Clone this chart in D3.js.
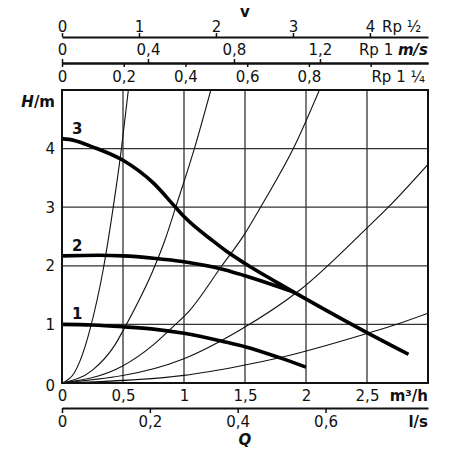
<!DOCTYPE html>
<html>
<head>
<meta charset="utf-8">
<script src="https://cdn.jsdelivr.net/npm/d3@7"></script>
<style>
  body { margin: 0; background: #fff; }
  text { font-family: "DejaVu Sans", sans-serif; font-size: 15px; fill: #111; }
</style>
</head>
<body>
<div id="chart"></div>
<script>
// pump curves, [Q m3/h, H m]
const curve1 = [[0, 1.0], [0.25, 0.99], [0.5, 0.96], [0.75, 0.92], [1.0, 0.85], [1.34, 0.70], [1.5, 0.62], [1.8, 0.42], [2.0, 0.27]]
const curve2 = [[0, 2.17], [0.3, 2.18], [0.5, 2.17], [0.75, 2.13], [1.0, 2.07], [1.34, 1.93], [1.5, 1.83], [1.75, 1.66], [1.9, 1.55]]
const curve3 = [[0, 4.17], [0.1, 4.14], [0.25, 4.03], [0.5, 3.80], [0.75, 3.41], [0.93, 3.0], [1.0, 2.84], [1.24, 2.42], [1.34, 2.26], [1.5, 2.04], [1.75, 1.73], [1.9, 1.55], [2.14, 1.27], [2.5, 0.86], [2.84, 0.49]]
const curveNames = ['1', '2', '3']

// system curves, [Q m3/h, H m]
const sysA = [[0, 0], [0.1, 0.17], [0.189, 0.62], [0.23, 0.92], [0.339, 1.95], [0.42, 3.0], [0.487, 4.0], [0.544, 5.0]]
const sysB = [[0, 0], [0.25, 0.22], [0.434, 0.65], [0.51, 0.93], [0.762, 2.0], [0.844, 2.44], [0.932, 3.0], [1.085, 4.0], [1.22, 5.0]]
const sysC = [[0, 0], [0.489, 0.28], [0.748, 0.65], [0.9, 0.94], [1.049, 1.245], [1.31, 2.0], [1.49, 2.52], [1.65, 3.08], [1.896, 4.0], [2.11, 5.0]]
const sysD = [[0, 0], [0.994, 0.41], [1.459, 0.905], [1.95, 1.587], [2.497, 2.64], [2.675, 3.0], [3.0, 3.73]]
const sysE = [[0, 0], [1.0, 0.13], [1.459, 0.29], [1.8, 0.44], [2.5, 0.845], [2.77, 1.02], [3.0, 1.19]]

// axes
const qTicks = [0, 0.5, 1, 1.5, 2, 2.5]
const lsTicks = [0, 0.2, 0.4, 0.6]
const hTicks = [0, 1, 2, 3, 4]
const pipeNames = ['Rp ½', 'Rp 1', 'Rp 1 ¼']
const pipeQPerMs = [0.631, 1.762, 2.53] // m3/h that gives 1 m/s in the pipe
const pipeTicks = [[0, 1, 2, 3, 4], [0, 0.4, 0.8, 1.2], [0, 0.2, 0.4, 0.6, 0.8, 1.0]]

const width = 450
const height = 450
const plotLeft = 62
const plotRight = 428
const plotTop = 90
const plotBottom = 383

const fmt = d3.formatLocale({ decimal: ',', thousands: '.', grouping: [3], currency: ['', ''] }).format('~g')

const x = d3.scaleLinear().domain([0, 3]).range([plotLeft, plotRight])
const y = d3.scaleLinear().domain([0, 5]).range([plotBottom, plotTop])

const svg = d3.select('#chart')
  .append('svg')
  .attr('width', width)
  .attr('height', height)

svg.append('defs').append('clipPath').attr('id', 'plot')
  .append('rect')
  .attr('x', plotLeft).attr('y', plotTop)
  .attr('width', plotRight - plotLeft).attr('height', plotBottom - plotTop)

const styleAxis = g => {
  g.select('.domain').attr('stroke', '#111').attr('stroke-width', 2)
  g.selectAll('.tick line').attr('stroke', '#111').attr('stroke-width', 1.5)
}

// grid
svg.append('g')
  .selectAll('line')
  .data(hTicks.filter(d => d > 0))
  .join('line')
  .attr('x1', plotLeft).attr('x2', plotRight)
  .attr('y1', d => y(d)).attr('y2', d => y(d))
  .attr('stroke', '#333').attr('stroke-width', 1.3)

svg.append('g')
  .selectAll('line')
  .data(qTicks.filter(d => d > 0))
  .join('line')
  .attr('x1', d => x(d)).attr('x2', d => x(d))
  .attr('y1', plotTop).attr('y2', plotBottom)
  .attr('stroke', '#333').attr('stroke-width', 1.3)

// system curves
const line = d3.line()
  .x(d => x(d[0]))
  .y(d => y(d[1]))
  .curve(d3.curveMonotoneX)

svg.append('g')
  .attr('clip-path', 'url(#plot)')
  .selectAll('path')
  .data([sysA, sysB, sysC, sysD, sysE])
  .join('path')
  .attr('fill', 'none')
  .attr('stroke', '#111')
  .attr('stroke-width', 1.1)
  .attr('d', line)

// pump curves
const pumps = [curve1, curve2, curve3]
svg.append('g')
  .selectAll('path')
  .data(pumps)
  .join('path')
  .attr('fill', 'none')
  .attr('stroke', '#000')
  .attr('stroke-width', 3.6)
  .attr('d', line)

svg.append('g')
  .selectAll('text')
  .data(pumps)
  .join('text')
  .attr('x', x(0.125))
  .attr('y', d => y(d[0][1]) - 5)
  .attr('text-anchor', 'middle')
  .attr('font-weight', 'bold')
  .text((d, i) => curveNames[i])

// plot frame
svg.append('rect')
  .attr('x', plotLeft).attr('y', plotTop)
  .attr('width', plotRight - plotLeft).attr('height', plotBottom - plotTop)
  .attr('fill', 'none')
  .attr('stroke', '#111')
  .attr('stroke-width', 2)

// bottom m3/h axis
svg.append('g')
  .attr('transform', `translate(0, ${plotBottom})`)
  .call(d3.axisBottom(x).tickValues(qTicks).tickFormat(fmt).tickSize(0).tickPadding(7))
  .call(g => g.select('.domain').remove())

// bottom l/s axis
const ls = d3.scaleLinear().domain([0, 3 / 3.6]).range([plotLeft, plotRight])
svg.append('g')
  .attr('transform', 'translate(0, 408)')
  .call(d3.axisBottom(ls).tickValues(lsTicks).tickFormat(fmt).tickSize(5).tickSizeOuter(0).tickPadding(3))
  .call(styleAxis)

// left H axis
svg.append('g')
  .attr('transform', `translate(${plotLeft}, 0)`)
  .call(d3.axisLeft(y).tickValues(hTicks).tickFormat(fmt).tickSize(0).tickPadding(7))
  .call(g => g.select('.domain').remove())
  .call(g => g.selectAll('.tick').filter(d => d === 0).select('text').attr('dy', '0.5em'))

// top velocity axes
const pipeY = [37, 63, 63]
pipeNames.forEach((name, i) => {
  const v = d3.scaleLinear().domain([0, 3 / pipeQPerMs[i]]).range([plotLeft, plotRight])
  const axis = i < 2 ? d3.axisTop(v) : d3.axisBottom(v)
  svg.append('g')
    .attr('transform', `translate(0, ${pipeY[i]})`)
    .call(axis.tickValues(pipeTicks[i])
      .tickFormat(d => (i === 2 && d === 1 ? '' : fmt(d)))
      .tickSize(4).tickSizeOuter(0)
      .tickPadding(i === 0 ? 1.5 : 4))
    .call(styleAxis)
})

// axis titles
svg.append('text').attr('x', 245).attr('y', 17)
  .attr('text-anchor', 'middle').attr('font-weight', 'bold').text('v')
svg.append('text').attr('x', 382).attr('y', 32).text(pipeNames[0])
const rp1 = svg.append('text').attr('x', 428).attr('y', 55).attr('text-anchor', 'end')
rp1.append('tspan').text(pipeNames[1] + ' ')
rp1.append('tspan').attr('font-weight', 'bold').attr('font-style', 'italic').text('m/s')
svg.append('text').attr('x', 425).attr('y', 82).attr('text-anchor', 'end').text(pipeNames[2])

const hm = svg.append('text').attr('x', 55).attr('y', 107).attr('text-anchor', 'end').attr('font-weight', 'bold')
hm.append('tspan').attr('font-style', 'italic').text('H')
hm.append('tspan').text('/m')

svg.append('text').attr('x', 428).attr('y', 401)
  .attr('text-anchor', 'end').attr('font-weight', 'bold').text('m³/h')
svg.append('text').attr('x', 428).attr('y', 427)
  .attr('text-anchor', 'end').attr('font-weight', 'bold').text('l/s')
svg.append('text').attr('x', 245).attr('y', 445)
  .attr('text-anchor', 'middle').attr('font-weight', 'bold').attr('font-style', 'italic').text('Q')
</script>
</body>
</html>
